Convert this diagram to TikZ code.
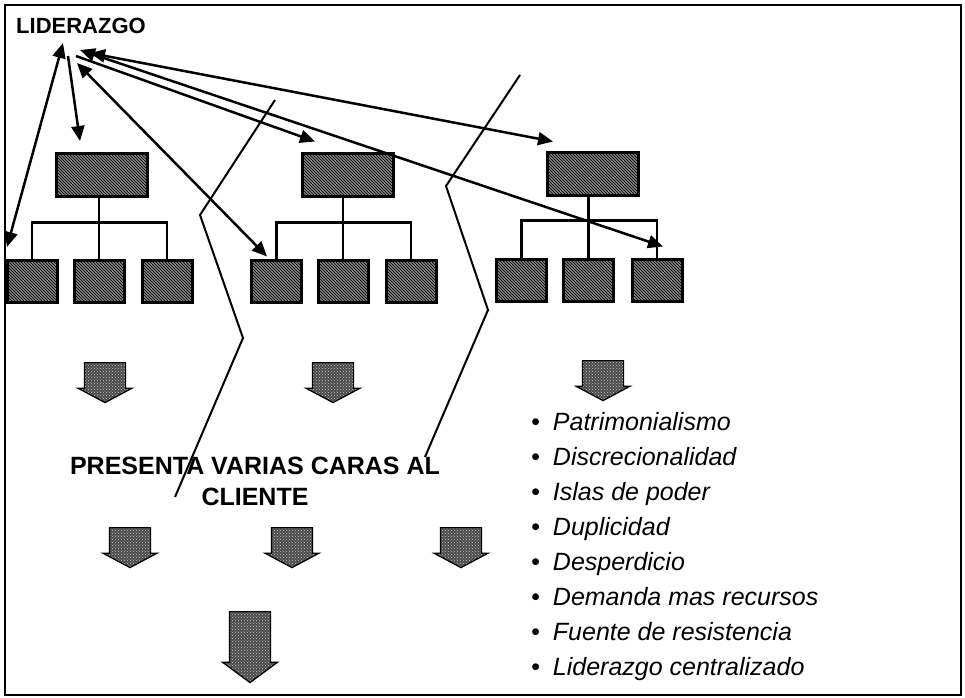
\documentclass[tikz,border=0pt]{standalone}
\usepackage{fontspec}
\setmainfont{Liberation Sans}
\usetikzlibrary{arrows.meta,shapes.arrows,patterns}

\tikzset{
  hatchbox/.style={draw, line width=3pt, preaction={fill=black!50}, pattern=north west lines, inner sep=0pt},
  parentbox/.style={hatchbox, minimum width=91pt, minimum height=43pt},
  childbox/.style={hatchbox, minimum width=50pt, minimum height=42pt},
  branch/.style={line width=2.5pt},
  link/.style={line width=2.5pt, -{Triangle[length=15pt,width=13pt]}},
  twolink/.style={line width=2.5pt, {Triangle[length=15pt,width=13pt]}-{Triangle[length=15pt,width=13pt]}},
  blockarrow/.style={single arrow, draw, line width=1.2pt, preaction={fill=black!70}, pattern=crosshatch dots,
    pattern color=gray!50, rotate=-90, anchor=tail, inner xsep=0pt, inner ysep=20pt, minimum height=40pt,
    single arrow head extend=6.5pt, single arrow tip angle=124},
  crack/.style={line width=2pt},
  bulletitem/.style={anchor=base west, inner sep=0pt, font=\fontsize{25}{25}\selectfont\itshape}
}

\begin{document}
\begin{tikzpicture}[x=1pt, y=-1pt]
            \useasboundingbox (0,0) rectangle (965,697);
            % Draw the frame
            \draw[line width=2pt] (5,5) rectangle (961,695);

            \node[anchor=base west, inner sep=0pt, font=\bfseries\fontsize{22}{22}\selectfont] (lider) at (16,33) {LIDERAZGO};
            \coordinate (hub) at (70,52);

            % Draw the first group
            \node[parentbox] (g1p) at (102,175) {};
            \node[childbox] (g1c1) at (32,281) {};
            \node[childbox] (g1c2) at (99,281) {};
            \node[childbox] (g1c3) at (167,281) {};
            \draw[branch] (g1c2.north) -- (g1c2.north |- g1p.south);
            \draw[branch] (g1c1.north) -- ++(0,-36) -| (g1c3.north);

            % Draw the second group
            \node[parentbox] (g2p) at (348,175) {};
            \node[childbox] (g2c1) at (276.5,281) {};
            \node[childbox] (g2c2) at (343,281) {};
            \node[childbox] (g2c3) at (411,281) {};
            \draw[branch] (g2c2.north) -- (g2c2.north |- g2p.south);
            \draw[branch] (g2c1.north) -- ++(0,-36) -| (g2c3.north);

            % Draw the third group
            \node[parentbox] (g3p) at (593,174) {};
            \node[childbox] (g3c1) at (521.5,280) {};
            \node[childbox] (g3c2) at (588.5,280) {};
            \node[childbox] (g3c3) at (657,280) {};
            \draw[branch] (g3c2.north) -- (g3c2.north |- g3p.south);
            \draw[branch] (g3c1.north) -- ++(0,-37) -| (g3c3.north);

            % Draw the arrows of the leadership
            \coordinate (e1) at (7,247);
            \coordinate (e2) at ([shift={(-22,-11)}]g1p.north);
            \coordinate (e3) at ([shift={(-9.5,-2)}]g2c1.north);
            \coordinate (e4) at ([shift={(-33,-10.5)}]g2p.north);
            \coordinate (e5) at ([shift={(-40,-9.5)}]g3p.north);
            \coordinate (e6) at ([shift={(6,-11)}]g3c3.north);
            \draw[twolink] ([shift={(-7,-9)}]hub) -- (e1);
            \draw[link] ([shift={(-2,4)}]hub) -- (e2);
            \draw[twolink] ([shift={(7,11)}]hub) -- (e3);
            \draw[link] ([shift={(6,4)}]hub) -- (e4);
            \draw[twolink] ([shift={(20,1)}]hub) -- (e5);
            \draw[twolink] ([shift={(10,-2)}]hub) -- (e6);

            % Draw the cracks
            \draw[crack] (275,100) -- (200,215) -- (243,338) -- (175,497);
            \draw[crack] (520,75) -- (446,186) -- (488,310) -- (425,457);

            % Draw the block arrows
            \node[blockarrow] (a1) at (105,362) {};
            \node[blockarrow] (a2) at (333,362) {};
            \node[blockarrow] (a3) at (603,360) {};
            \node[blockarrow] (b1) at (130,527) {};
            \node[blockarrow] (b2) at (292,527) {};
            \node[blockarrow] (b3) at (461,527) {};
            \node[blockarrow, minimum height=71pt, single arrow head extend=7pt, single arrow tip angle=107] (c1) at (250,611) {};

            \node[font=\bfseries\fontsize{25}{31}\selectfont, align=center, inner sep=0pt] (caras) at (255,481.5) {PRESENTA VARIAS CARAS AL\\CLIENTE};

            % Draw the list
            \node[bulletitem] (l1) at (531,430) {\textbullet\hspace{13pt}Patrimonialismo};
            \node[bulletitem] (l2) at (531,465) {\textbullet\hspace{13pt}Discrecionalidad};
            \node[bulletitem] (l3) at (531,500) {\textbullet\hspace{13pt}Islas de poder};
            \node[bulletitem] (l4) at (531,535) {\textbullet\hspace{13pt}Duplicidad};
            \node[bulletitem] (l5) at (531,570) {\textbullet\hspace{13pt}Desperdicio};
            \node[bulletitem] (l6) at (531,605) {\textbullet\hspace{13pt}Demanda mas recursos};
            \node[bulletitem] (l7) at (531,640) {\textbullet\hspace{13pt}Fuente de resistencia};
            \node[bulletitem] (l8) at (531,675) {\textbullet\hspace{13pt}Liderazgo centralizado};

\end{tikzpicture}
\end{document}
